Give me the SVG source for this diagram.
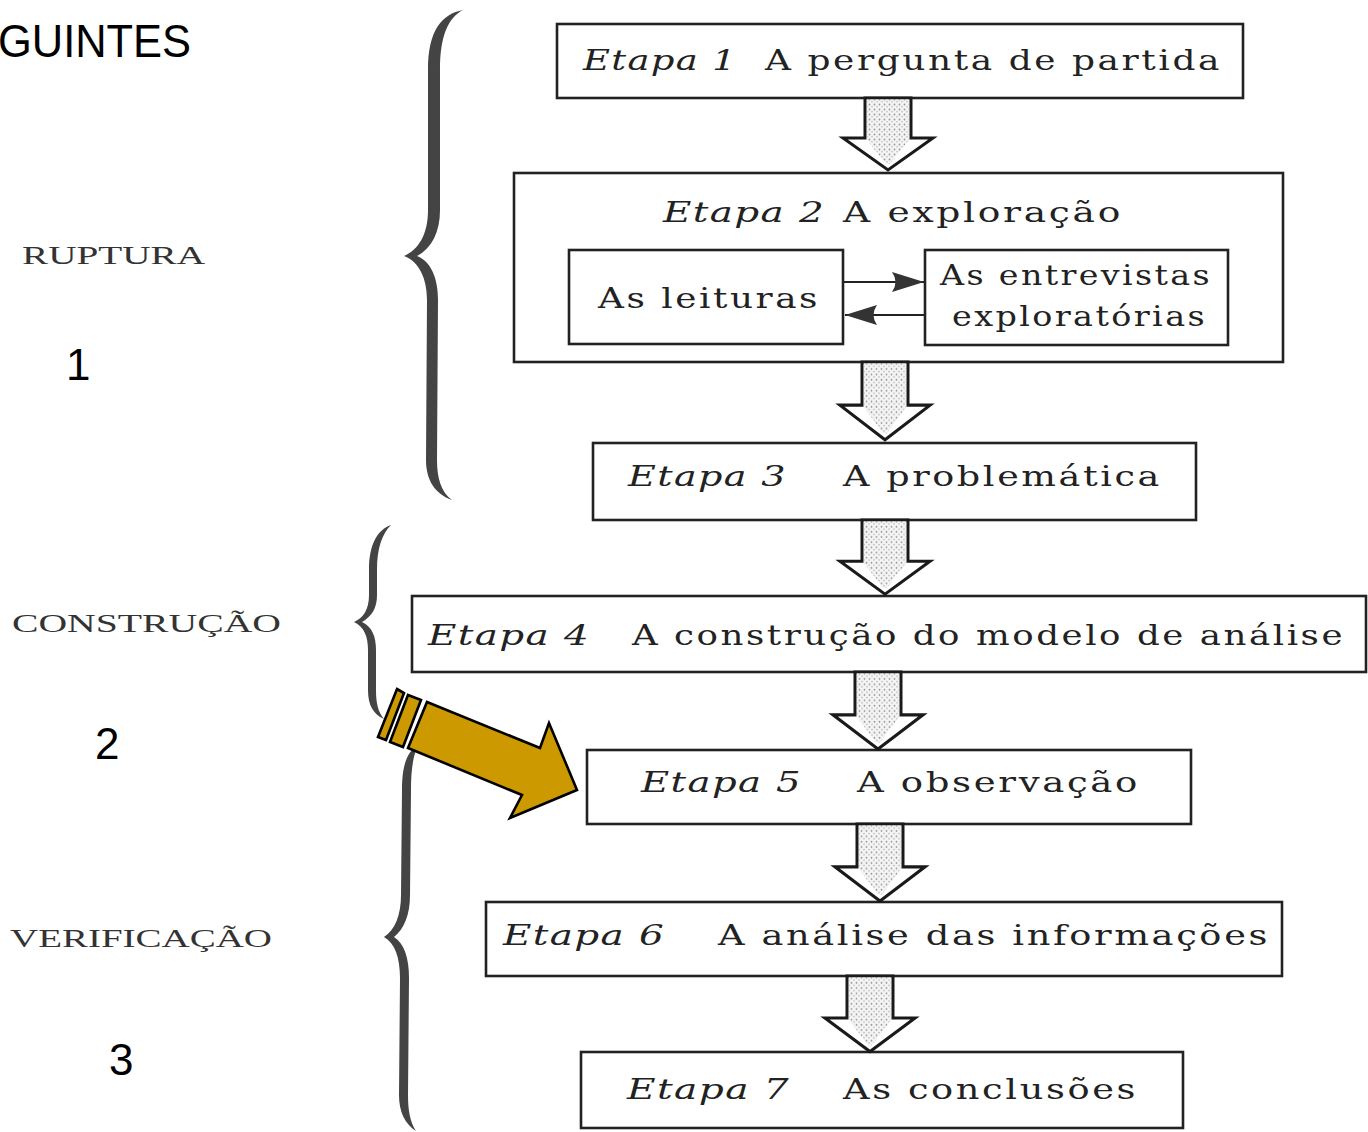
<svg xmlns="http://www.w3.org/2000/svg" width="1368" height="1132" viewBox="0 0 1368 1132">
<style>
.box{fill:#fff;stroke:#222;stroke-width:2.6}
.t{font-family:"DejaVu Serif","Liberation Serif",serif;font-size:28px;fill:#222;letter-spacing:2px}
.it{font-style:italic;letter-spacing:1px}
.lbl{font-family:"Liberation Serif","DejaVu Serif",serif;font-size:25px;fill:#333}
.num{font-family:"Liberation Sans",Arial,sans-serif;font-size:44px;fill:#000}
.brace{fill:#444}
.harrow{fill:#fff;stroke:#1a1a1a;stroke-width:3;stroke-linejoin:miter}
.shade{fill:url(#dots);stroke:none}
.link{stroke:#222;stroke-width:2.2;fill:none}
.gold{fill:#CC9900;stroke:#000;stroke-width:2.6;stroke-linejoin:miter}
</style>
<defs>
<pattern id="dots" width="5" height="5" patternUnits="userSpaceOnUse">
<rect width="5" height="5" fill="#f4f4f4"/>
<circle cx="1.5" cy="1.5" r="0.9" fill="#999"/>
<circle cx="4" cy="3.8" r="0.7" fill="#aaa"/>
</pattern>
<marker id="ah" viewBox="0 0 32 22" refX="32" refY="11" markerWidth="32" markerHeight="22" markerUnits="userSpaceOnUse" orient="auto">
<path d="M0,1 Q7,11 0,21 L32,11 Z" fill="#333"/>
</marker>
</defs>

<rect width="1368" height="1132" fill="#fff"/>

<!-- left labels -->
<g id="title"><text x="-2" y="57" font-family="Liberation Sans,Arial,sans-serif" font-size="46" textLength="193" lengthAdjust="spacingAndGlyphs">GUINTES</text></g>
<g id="lbl-ruptura"><text class="lbl" x="22" y="264" textLength="183" lengthAdjust="spacingAndGlyphs">RUPTURA</text></g>
<g id="num1"><text class="num" x="66" y="380">1</text></g>
<g id="lbl-construcao"><text class="lbl" x="12" y="632" textLength="269" lengthAdjust="spacingAndGlyphs">CONSTRUÇÃO</text></g>
<g id="num2"><text class="num" x="95" y="759">2</text></g>
<g id="lbl-verificacao"><text class="lbl" x="10" y="947" textLength="262" lengthAdjust="spacingAndGlyphs">VERIFICAÇÃO</text></g>
<g id="num3"><text class="num" x="109" y="1075">3</text></g>

<!-- braces -->
<g id="brace1"><path class="brace" d="M463 10 C442 14 428 30 428 70 L428 210 C428 235 418 250 404 256 C420 262 427 280 427 300 L426 460 C426 480 435 494 452 500 C441 492 437 478 437 460 L438 300 C438 280 432 262 417 256 C432 248 440 232 440 210 L440 70 C440 36 448 18 463 10 Z"/></g>
<g id="brace2"><path class="brace" d="M391 525 C377 530 369 545 369 570 L369 595 C369 610 363 618 354 622 C364 627 368 636 368 650 L368 690 C368 705 373 714 384 719 C378 712 376 703 376 690 L376 650 C376 636 372 627 362 622 C372 616 377 608 377 595 L377 570 C377 548 382 534 391 525 Z"/></g>
<g id="brace3"><path class="brace" d="M418 745 C407 752 402 765 402 790 L401 895 C401 915 395 930 384 937 C395 943 400 958 400 978 L399 1095 C399 1112 405 1124 416 1131 C410 1122 408 1110 408 1095 L409 978 C409 958 404 943 394 937 C404 929 410 915 410 895 L411 790 C411 770 413 756 418 745 Z"/></g>

<!-- nodes -->
<g id="etapa1">
<rect class="box" x="557" y="24" width="686" height="74"/>
<text class="t it" x="583" y="70" textLength="154" lengthAdjust="spacingAndGlyphs">Etapa 1</text>
<text class="t" x="765" y="70" textLength="457" lengthAdjust="spacingAndGlyphs">A pergunta de partida</text>
</g>
<g id="etapa2">
<rect class="box" x="514" y="173" width="769" height="189"/>
<text class="t it" x="663" y="222" textLength="162" lengthAdjust="spacingAndGlyphs">Etapa 2</text>
<text class="t" x="843" y="222" textLength="280" lengthAdjust="spacingAndGlyphs">A exploração</text>
</g>
<g id="leituras">
<rect class="box" x="569" y="250" width="274" height="94"/>
<text class="t" x="598" y="308" textLength="222" lengthAdjust="spacingAndGlyphs">As leituras</text>
</g>
<g id="entrevistas">
<rect class="box" x="925" y="250" width="303" height="95"/>
<text class="t" x="940" y="285" textLength="272" lengthAdjust="spacingAndGlyphs">As entrevistas</text>
<text class="t" x="952" y="326" textLength="255" lengthAdjust="spacingAndGlyphs">exploratórias</text>
</g>
<g id="etapa3">
<rect class="box" x="593" y="443" width="603" height="77"/>
<text class="t it" x="628" y="486" textLength="159" lengthAdjust="spacingAndGlyphs">Etapa 3</text>
<text class="t" x="843" y="486" textLength="319" lengthAdjust="spacingAndGlyphs">A problemática</text>
</g>
<g id="etapa4">
<rect class="box" x="412" y="596" width="954" height="76"/>
<text class="t it" x="428" y="645" textLength="162" lengthAdjust="spacingAndGlyphs">Etapa 4</text>
<text class="t" x="632" y="645" textLength="713" lengthAdjust="spacingAndGlyphs">A construção do modelo de análise</text>
</g>
<g id="etapa5">
<rect class="box" x="587" y="750" width="604" height="74"/>
<text class="t it" x="641" y="792" textLength="161" lengthAdjust="spacingAndGlyphs">Etapa 5</text>
<text class="t" x="857" y="792" textLength="283" lengthAdjust="spacingAndGlyphs">A observação</text>
</g>
<g id="etapa6">
<rect class="box" x="486" y="902" width="796" height="74"/>
<text class="t it" x="503" y="945" textLength="162" lengthAdjust="spacingAndGlyphs">Etapa 6</text>
<text class="t" x="718" y="945" textLength="552" lengthAdjust="spacingAndGlyphs">A análise das informações</text>
</g>
<g id="etapa7">
<rect class="box" x="581" y="1052" width="602" height="76"/>
<text class="t it" x="627" y="1099" textLength="163" lengthAdjust="spacingAndGlyphs">Etapa 7</text>
<text class="t" x="843" y="1099" textLength="295" lengthAdjust="spacingAndGlyphs">As conclusões</text>
</g>

<!-- connectors -->
<g id="connectors">
<g transform="translate(888,98)">
<path class="harrow" d="M-23 0 L23 0 L23 40 L45 40 L0 72 L-45 40 L-23 40 Z"/>
<path class="shade" d="M-21 1.5 L21 1.5 L21 42 L2 66 L-2 66 L-21 42 Z"/>
</g>
<g transform="translate(885,362) scale(1,1.08)">
<path class="harrow" d="M-23 0 L23 0 L23 40 L45 40 L0 72 L-45 40 L-23 40 Z"/>
<path class="shade" d="M-21 1.5 L21 1.5 L21 42 L2 66 L-2 66 L-21 42 Z"/>
</g>
<g transform="translate(885,520) scale(1,1.03)">
<path class="harrow" d="M-23 0 L23 0 L23 40 L45 40 L0 72 L-45 40 L-23 40 Z"/>
<path class="shade" d="M-21 1.5 L21 1.5 L21 42 L2 66 L-2 66 L-21 42 Z"/>
</g>
<g transform="translate(878,672) scale(1,1.07)">
<path class="harrow" d="M-23 0 L23 0 L23 40 L45 40 L0 72 L-45 40 L-23 40 Z"/>
<path class="shade" d="M-21 1.5 L21 1.5 L21 42 L2 66 L-2 66 L-21 42 Z"/>
</g>
<g transform="translate(880,824) scale(1,1.07)">
<path class="harrow" d="M-23 0 L23 0 L23 40 L45 40 L0 72 L-45 40 L-23 40 Z"/>
<path class="shade" d="M-21 1.5 L21 1.5 L21 42 L2 66 L-2 66 L-21 42 Z"/>
</g>
<g transform="translate(870,976) scale(1,1.05)">
<path class="harrow" d="M-23 0 L23 0 L23 40 L45 40 L0 72 L-45 40 L-23 40 Z"/>
<path class="shade" d="M-21 1.5 L21 1.5 L21 42 L2 66 L-2 66 L-21 42 Z"/>
</g>
<line class="link" x1="843" y1="282" x2="924" y2="282" marker-end="url(#ah)"/>
<line class="link" x1="925" y1="315" x2="845" y2="315" marker-end="url(#ah)"/>
</g>

<!-- gold arrow -->
<g id="gold-arrow">
<path class="gold" d="M397 689 L404 693 L386 740 L378 737 Z"/>
<path class="gold" d="M408 695 L421 700 L403 747 L390 742 Z"/>
<path class="gold" d="M427 702 L540 748 L549 723 L577 790 L510 818 L522 795 L408 748 Z"/>
</g>
</svg>
